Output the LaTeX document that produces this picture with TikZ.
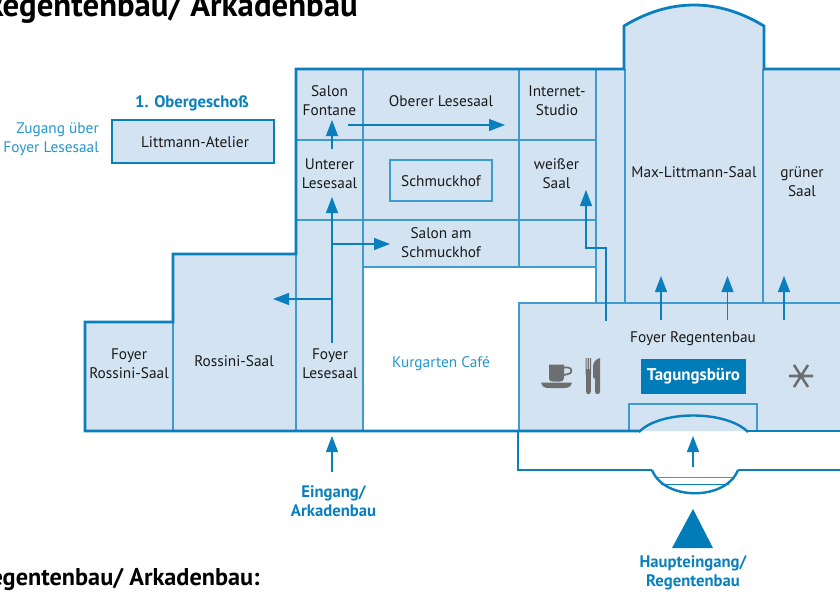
\documentclass[tikz,border=0pt]{standalone}
\usepackage{fontspec}
\setmainfont{PT Sans}
\usetikzlibrary{arrows.meta}
\definecolor{wall}{HTML}{0A7FBD}
\definecolor{thin}{HTML}{3D9BCD}
\definecolor{room}{HTML}{D3E3F2}
\definecolor{bluetxt}{HTML}{0A7FBD}
\definecolor{lighttxt}{HTML}{2496CF}
\definecolor{desk}{HTML}{007CB8}
\definecolor{icon}{HTML}{6D6E70}
\definecolor{ink}{HTML}{1A1A1A}
\tikzset{
  x=0.75pt,y=-0.75pt,
  heavy/.style={draw=wall,line width=2.1pt,line join=miter},
  light/.style={draw=thin,line width=0.85pt},
  way/.style={draw=wall,line width=0.85pt,-{Triangle[length=12pt,width=9pt,fill=wall]}},
  lbl/.style={inner sep=0pt,align=center,text=ink,font=\fontsize{11.5}{14.2}\selectfont},
  bluebold/.style={inner sep=0pt,align=center,text=bluetxt,font=\fontsize{12.5}{14.6}\selectfont\bfseries},
  bluelight/.style={inner sep=0pt,text=lighttxt,font=\fontsize{11.5}{14.2}\selectfont},
  heading/.style={inner sep=0pt,anchor=base east,text=black,font=\bfseries}
}
\begin{document}
\begin{tikzpicture}
\useasboundingbox (0,0) rectangle (840,593);
\clip (0,0) rectangle (840,593);
% fills
\fill[room] (296,69) -- (624,69) -- (624,26) .. controls (670,-2) and (718,-2) .. (764,26) -- (764,69) -- (840,69) -- (840,431)
  -- (519,431) -- (519,303) -- (596,303) -- (596,267) -- (363,267) -- (363,431) -- (85,431) -- (85,322) -- (173,322) -- (173,254) -- (296,254) -- cycle;
\fill[room] (112,120) rectangle (274,163);
% thin walls
\draw[light] (363,69) -- (363,431);
\draw[light] (519,69) -- (519,267);
\draw[light] (596,69) -- (596,303);
\draw[light] (625,69) -- (625,303);
\draw[light] (763,69) -- (763,303);
\draw[light] (296,140) -- (596,140);
\draw[light] (296,220) -- (596,220);
\draw[light] (363,267) -- (596,267);
\draw[light] (296,254) -- (296,431);
\draw[light] (173,322) -- (173,431);
\draw[light] (519,431) -- (519,303) -- (840,303);
\draw[light] (390,160) rectangle (492,201);
\draw[light] (629,431) -- (629,404) -- (757,404) -- (757,431);
% heavy walls
\draw[heavy] (840,69) -- (764,69) -- (764,26) .. controls (718,-2) and (670,-2) .. (624,26) -- (624,69) -- (296,69) -- (296,254) -- (173,254) -- (173,322) -- (85,322) -- (85,431) -- (640,431);
\draw[heavy] (747,431) -- (840,431);
\draw[heavy] (112,120) rectangle (274,163);
% entrance porch
\fill[room] (640,431) .. controls (660,410) and (726,410) .. (747,431) -- cycle;
\draw[heavy,line width=1.8pt] (639,432) .. controls (660,410) and (726,410) .. (748,432);
\fill[white] (652,470) .. controls (664,499) and (726,499) .. (738,470) -- cycle;
\draw[draw=thin,line width=0.5pt] (656,477) -- (734,477);
\draw[draw=wall,line width=0.7pt] (661,484) -- (729,484);
\draw[heavy,line width=1.8pt] (652,470) .. controls (664,501) and (726,501) .. (738,470);
\draw[heavy] (652,470) -- (518,470) -- (518,431);
\draw[heavy] (738,470) -- (840,470);
% arrows
\coordinate (fontaneFrom) at (332,149); \coordinate (fontaneTo) at (332,120);
\draw[way] (fontaneFrom) -- (fontaneTo);
\coordinate (foyerFrom) at (332,343); \coordinate (lesesaalTo) at (332,197);
\draw[way] (foyerFrom) -- (lesesaalTo);
\coordinate (branchA) at (332,244); \coordinate (schmuckTo) at (390,244);
\draw[way] (branchA) -- (schmuckTo);
\coordinate (branchB) at (332,299); \coordinate (rossiniTo) at (273,299);
\draw[way] (branchB) -- (rossiniTo);
\coordinate (oberFrom) at (348,125); \coordinate (oberTo) at (505,125);
\draw[way] (oberFrom) -- (oberTo);
\coordinate (arkFrom) at (332,472); \coordinate (arkTo) at (332,436);
\draw[way] (arkFrom) -- (arkTo);
\coordinate (weissFrom) at (606,321); \coordinate (weissTo) at (586,190);
\draw[way] (weissFrom) |- (596,248) -| (weissTo);
\foreach \ax/\an in {661/a,727.5/b,784/c}{
  \coordinate (up\an From) at (\ax,320); \coordinate (up\an To) at (\ax,276);
  \draw[way] (up\an From) -- (up\an To);
}
\coordinate (hauptFrom) at (693,467); \coordinate (hauptTo) at (693,436);
\draw[way] (hauptFrom) -- (hauptTo);
\fill[desk] (693,509) -- (713,548) -- (672,548) -- cycle;
% desk
\node[fill=desk,minimum width=78.75pt,minimum height=26.25pt,inner sep=0pt,text=white,font=\fontsize{12.7}{14}\selectfont\bfseries] (desk) at (693.5,376.5) {\raisebox{1pt}{Tagungsbüro}};
% icons
\draw[icon,line width=1.3pt] (563,367.5) -- (568,367.5) .. controls (572.5,367.5) and (572.5,374) .. (568,374) -- (562,375.5);
\fill[icon] (549,364.5) -- (564,364.5) -- (564,378) .. controls (564,381) and (562,381.5) .. (560,381.5) -- (553,381.5) .. controls (550,381.5) and (549,381) .. (549,378) -- cycle;
\fill[icon] (541,382.5) -- (572,382.5) .. controls (571,387) and (568,388) .. (564,388) -- (549,388) .. controls (545,388) and (542,387) .. (541,382.5) -- cycle;
% fork
\fill[icon] (585.5,358) -- (586.7,358) -- (586.7,369) -- (587.7,369) -- (587.7,358) -- (588.9,358) -- (588.9,369) -- (589.9,369) -- (589.9,358) -- (591.2,358) -- (591.2,372) .. controls (591.2,374) and (590.8,375) .. (590.8,377) -- (590.8,391.5) .. controls (590.8,395) and (586,395) .. (586,391.5) -- (586,377) .. controls (586,375) and (585.5,374) .. (585.5,372) -- cycle;
% knife
\fill[icon] (600,358) -- (600,391.5) .. controls (600,395) and (595,395) .. (595,391.5) -- (595,379) -- (593,377) -- (593,366) .. controls (593.5,362) and (596,359) .. (600,358) -- cycle;
% asterisk
\draw[icon,line width=1.9pt] (789,376) -- (813,376) (794,365) -- (808,387) (808,365) -- (794,387);
% labels
\node[lbl] (atelier) at (195,142) {Littmann-Atelier};
\node[lbl] (fontane) at (329.5,101) {Salon\\Fontane};
\node[lbl] (oberer) at (441,101) {Oberer Lesesaal};
\node[lbl] (internet) at (557,101) {Internet-\\Studio};
\node[lbl] (unterer) at (329.5,174) {Unterer\\Lesesaal};
\node[lbl] (schmuck) at (441,181) {Schmuckhof};
\node[lbl] (weiss) at (556.5,174) {weißer\\Saal};
\node[lbl] (salonam) at (441,243) {Salon am\\Schmuckhof};
\node[lbl] (maxl) at (694,172) {Max-Littmann-Saal};
\node[lbl] (gruener) at (802,182) {grüner\\Saal};
\node[lbl] (frossini) at (129,364) {Foyer\\Rossini-Saal};
\node[lbl] (rossini) at (234,361) {Rossini-Saal};
\node[lbl] (flese) at (330,364) {Foyer\\Lesesaal};
\node[lbl] (fregent) at (693,339) {Foyer Regentenbau};
\node[bluelight] (kurgarten) at (441,364) {Kurgarten Café};
\node[bluelight,align=right,anchor=east] (zugang) at (99,139.5) {Zugang über\\Foyer Lesesaal};
\node[bluebold] (ober) at (192,103) {1. Obergeschoß};
\node[bluebold] (eingang) at (333.5,501) {Eingang/\\Arkadenbau};
\node[bluebold] (haupt) at (693,573) {Haupteingang/\\Regentenbau};
\node[heading,font=\fontsize{24.6}{26}\selectfont\bfseries] (title) at (358,16) {Regentenbau/ Arkadenbau};
\node[heading,font=\fontsize{18.2}{20}\selectfont\bfseries] (sub) at (260,585) {Regentenbau/ Arkadenbau:};
\end{tikzpicture}
\end{document}
